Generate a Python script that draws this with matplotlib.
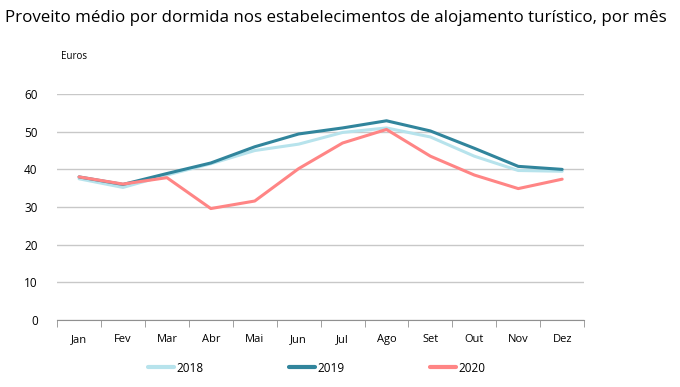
import numpy as np
import matplotlib.pyplot as plt
from matplotlib.ticker import FixedLocator

plt.rcParams['font.family'] = ['Open Sans', 'DejaVu Sans']

meses = ['Jan', 'Fev', 'Mar', 'Abr', 'Mai', 'Jun', 'Jul', 'Ago', 'Set', 'Out', 'Nov', 'Dez']
v2018 = [37.5, 35.2, 38.5, 41.5, 45.0, 46.7, 49.8, 51.0, 48.6, 43.5, 39.7, 39.5]
v2019 = [38.0, 36.0, 38.9, 41.7, 46.0, 49.4, 51.0, 52.9, 50.2, 45.6, 40.8, 40.0]
v2020 = [38.0, 36.1, 37.8, 29.6, 31.6, 40.2, 47.0, 50.6, 43.5, 38.5, 34.9, 37.4]

fig = plt.figure(figsize=(6.8, 3.87), dpi=100)
ax = fig.add_axes([0.084, 0.173, 0.775, 0.584])

x = np.arange(len(meses))
ax.plot(x, v2018, color='#b7e3ec', lw=2.2, label='2018', solid_capstyle='round')
ax.plot(x, v2019, color='#31859c', lw=2.2, label='2019', solid_capstyle='round')
ax.plot(x, v2020, color='#ff8585', lw=2.2, label='2020', solid_capstyle='round')

ax.set_xlim(-0.5, 11.5)
ax.set_ylim(0, 60)
ax.set_yticks(range(0, 61, 10))
ax.yaxis.grid(True, color='#c8c8c8', lw=1)
ax.set_axisbelow(True)
ax.set_xticks(x)
ax.set_xticklabels(meses)
ax.xaxis.set_minor_locator(FixedLocator(np.arange(-0.5, 12, 1)))
ax.tick_params(axis='x', which='major', length=0, pad=10, labelsize=8)
ax.tick_params(axis='x', which='minor', length=5, color='#909090', direction='out')
ax.tick_params(axis='y', length=0, labelsize=8.5, pad=14)
for s in ['top', 'right', 'left']:
    ax.spines[s].set_visible(False)
ax.spines['bottom'].set_color('#909090')

fig.text(0.007, 0.953, 'Proveito médio por dormida nos estabelecimentos de alojamento turístico, por mês',
         fontsize=12.2, va='center', ha='left')
fig.text(0.09, 0.855, 'Euros', fontsize=7, va='center', ha='left')

leg = fig.legend(loc='center', bbox_to_anchor=(0.466, 0.049), ncol=3, frameon=False,
                 fontsize=8.5, handlelength=2.2, handletextpad=0.25, columnspacing=7.2)
for h in leg.get_lines():
    h.set_linewidth(3)

fig.savefig('out.png', dpi=100)
